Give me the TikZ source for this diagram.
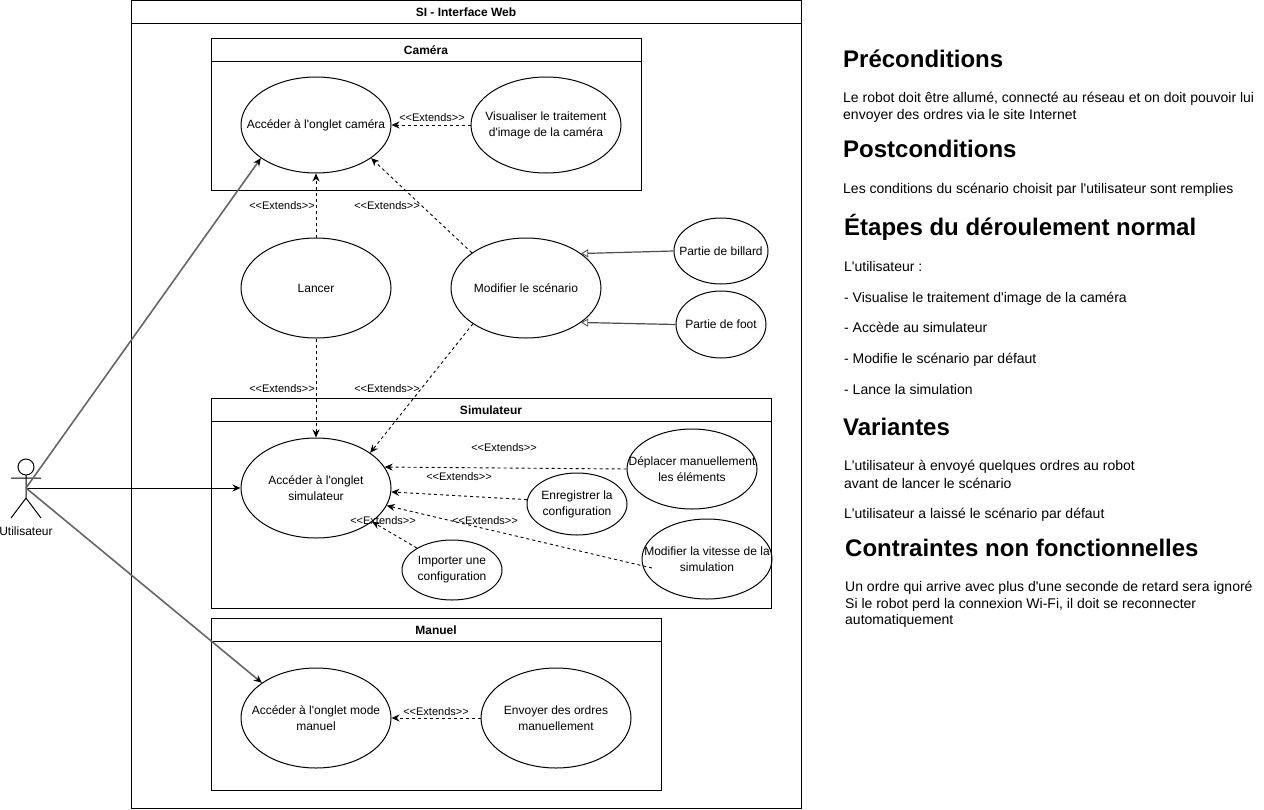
\documentclass[tikz,border=0pt]{standalone}
\usepackage{fontspec}
\setmainfont{Liberation Sans}[Ligatures=TeXOff]
\usetikzlibrary{shapes.geometric,arrows.meta}
\tikzset{
  uc/.style={draw=black,ellipse,inner xsep=-40pt,inner ysep=0pt,line width=1pt,align=center,font=\fontsize{12}{16}\selectfont},
  lane/.style={draw=black,line width=1pt},
  lanetitle/.style={font=\bfseries\fontsize{12}{14}\selectfont,inner sep=0pt},
  ext/.style={draw=black,dashed,dash pattern=on 3pt off 3pt,line width=.9pt,-{Stealth[length=8pt,width=7pt]}},
  gen/.style={draw=black!70,line width=1.2pt,-{Triangle[open,fill=white,length=7pt,width=8pt,line width=.8pt]}},
  assoc/.style={draw=black!60,line width=1.6pt,-{Stealth[length=8pt,width=7pt,color=black]}},
  assocb/.style={draw=black,line width=1pt,-{Stealth[length=8pt,width=7pt]}},
  lbl/.style={font=\fontsize{11}{12}\selectfont,inner sep=0pt,fill=none},
  head/.style={anchor=base west,inner sep=0pt,font=\bfseries\fontsize{24}{28}\selectfont},
  body/.style={anchor=base west,inner sep=0pt,align=left,font=\fontsize{14}{16}\selectfont},
  actorline/.style={draw=black,line width=1pt}
}
\begin{document}
\begin{tikzpicture}[x=1pt,y=-1pt]
\useasboundingbox (0,0) rectangle (1264,809);
\fill[white] (0,0) rectangle (1264,809);
% lanes
\draw[lane] (131,0.5) rectangle (801,808); \draw[lane] (131,23.5) -- (801,23.5);
\node[lanetitle] (tsi) at (466,12) {SI - Interface Web};
\draw[lane] (211,38.5) rectangle (641,190.5); \draw[lane] (211,61.5) -- (641,61.5);
\node[lanetitle] (tcam) at (426,50) {Caméra};
\draw[lane] (211,398.5) rectangle (771,608); \draw[lane] (211,421.5) -- (771,421.5);
\node[lanetitle] (tsim) at (491,410) {Simulateur};
\draw[lane] (211,618.5) rectangle (661,790.5); \draw[lane] (211,641.5) -- (661,641.5);
\node[lanetitle] (tman) at (436,630) {Manuel};
% use cases
\node[uc,minimum width=150pt,minimum height=96pt] (cam) at (316,125) {Accéder à l'onglet caméra};
\node[uc,minimum width=150pt,minimum height=96pt] (vis) at (546,125) {Visualiser le traitement\\d'image de la caméra};
\node[uc,minimum width=150pt,minimum height=100pt] (lan) at (316,288) {Lancer};
\node[uc,minimum width=150pt,minimum height=100pt] (mod) at (526,288) {Modifier le scénario};
\node[uc,minimum width=94pt,minimum height=66pt] (bil) at (721,251) {Partie de billard};
\node[uc,minimum width=90pt,minimum height=67pt] (foo) at (721,324.5) {Partie de foot};
\node[uc,minimum width=150pt,minimum height=100pt] (sim) at (316,488) {Accéder à l'onglet\\simulateur};
\node[uc,minimum width=130pt,minimum height=80pt] (dep) at (692,469) {Déplacer manuellement\\les éléments};
\node[uc,minimum width=100pt,minimum height=62pt] (enr) at (577,504) {Enregistrer la\\configuration};
\node[uc,minimum width=100pt,minimum height=60pt] (imp) at (452,570) {Importer une\\configuration};
\node[uc,minimum width=130pt,minimum height=80pt] (vit) at (707,559) {Modifier la vitesse de la\\simulation};
\node[uc,minimum width=150pt,minimum height=100pt] (man) at (316,718) {Accéder à l'onglet mode\\manuel};
\node[uc,minimum width=150pt,minimum height=100pt] (env) at (556,718) {Envoyer des ordres\\manuellement};
% actor
\draw[actorline] (26,467) circle (8);
\coordinate (act) at (26,488);
\coordinate (vits) at (652,568);
\draw[actorline] (26,475) -- (26,498) (11,478) -- (41,478) (26,498) -- (11,518) (26,498) -- (41,518);
\node[inner sep=0pt,font=\fontsize{12}{14}\selectfont] (actl) at (26,531) {Utilisateur};
% associations
\draw[assoc] (act) -- (cam.211);
\draw[assocb] (act) -- (sim.west);
\draw[assoc] (act) -- (man.147);
% extends
\draw[ext] (lan.north) -- (cam.south);
\draw[ext] (lan.south) -- (sim.north);
\draw[ext] (mod.147) -- (cam.-31);
\draw[ext] (mod.214) -- (sim.33);
\draw[ext] (vis.west) -- (cam.east);
\draw[ext] (dep.west) -- (sim.17);
\draw[ext] (enr.175) -- (sim.-3);
\draw[ext] (vits) -- (sim.-14);
\draw[ext] (imp.148) -- (sim.-31);
\draw[ext] (env.west) -- (man.east);
\draw[gen] (bil.west) -- (mod.32);
\draw[gen] (foo.west) -- (mod.-32);
% extends labels
\node[lbl] (l1) at (432,117.5) {<{}<Extends>{}>};
\node[lbl] (l2) at (282,205.5) {<{}<Extends>{}>};
\node[lbl] (l3) at (387,205.5) {<{}<Extends>{}>};
\node[lbl] (l4) at (282,388.5) {<{}<Extends>{}>};
\node[lbl] (l5) at (387,388.5) {<{}<Extends>{}>};
\node[lbl] (l6) at (504,447.5) {<{}<Extends>{}>};
\node[lbl] (l7) at (459,476.5) {<{}<Extends>{}>};
\node[lbl] (l8) at (485,520.5) {<{}<Extends>{}>};
\node[lbl] (l9) at (383,520.5) {<{}<Extends>{}>};
\node[lbl] (l10) at (436,711.5) {<{}<Extends>{}>};
% text
\node[head] (h1) at (843,67) {Préconditions};
\node[body] (b1a) at (843,102) {Le robot doit être allumé, connecté au réseau et on doit pouvoir lui};
\node[body] (b1b) at (843,119) {envoyer des ordres via le site Internet};
\node[head] (h2) at (843,157) {Postconditions};
\node[body] (b2) at (843,193) {Les conditions du scénario choisit par l'utilisateur sont remplies};
\node[head] (h3) at (844,235) {Étapes du déroulement normal};
\node[body] (b3) at (844,271) {L'utilisateur :};
\node[body] (b4) at (844,302) {- Visualise le traitement d'image de la caméra};
\node[body] (b5) at (844,332) {- Accède au simulateur};
\node[body] (b6) at (844,363) {- Modifie le scénario par défaut};
\node[body] (b7) at (844,394) {- Lance la simulation};
\node[head] (h4) at (843,435) {Variantes};
\node[body] (b8) at (844,470) {L'utilisateur à envoyé quelques ordres au robot};
\node[body] (b9) at (844,488) {avant de lancer le scénario};
\node[body] (b10) at (844,518) {L'utilisateur a laissé le scénario par défaut};
\node[head] (h5) at (845,556) {Contraintes non fonctionnelles};
\node[body] (b11) at (845,591) {Un ordre qui arrive avec plus d'une seconde de retard sera ignoré};
\node[body] (b12) at (845,608) {Si le robot perd la connexion Wi-Fi, il doit se reconnecter};
\node[body] (b13) at (845,624) {automatiquement};
\end{tikzpicture}
\end{document}
